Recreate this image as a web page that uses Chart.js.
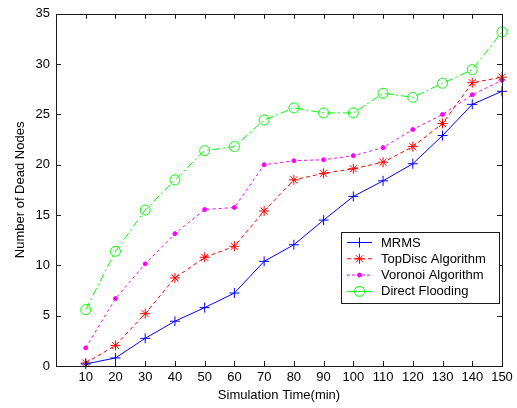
<!DOCTYPE html>
<html>
<head>
<meta charset="utf-8">
<script src="https://cdn.jsdelivr.net/npm/chart.js@4/dist/chart.umd.min.js"></script>
<style>
  body { margin: 0; background: #fff; }
  canvas { display: block; }
</style>
</head>
<body>
<canvas id="myChart" width="517" height="408"></canvas>
<script>
const times = [10, 20, 30, 40, 50, 60, 70, 80, 90, 100, 110, 120, 130, 140, 150];
const mrms = [0.2, 0.8, 2.75, 4.45, 5.8, 7.25, 10.4, 12.05, 14.5, 16.85, 18.4, 20.1, 22.9, 26.0, 27.3];
const topDisc = [0.3, 2.05, 5.2, 8.75, 10.8, 11.9, 15.4, 18.5, 19.15, 19.6, 20.25, 21.8, 24.1, 28.15, 28.7];
const voronoi = [1.8, 6.7, 10.15, 13.15, 15.55, 15.75, 20.0, 20.4, 20.5, 20.9, 21.7, 23.5, 25.0, 26.95, 28.4];
const flooding = [5.6, 11.4, 15.5, 18.5, 21.4, 21.8, 24.45, 25.65, 25.15, 25.15, 27.1, 26.7, 28.1, 29.45, 33.2];
const seriesNames = ['MRMS', 'TopDisc Algorithm', 'Voronoi Algorithm', 'Direct Flooding'];

const toPoints = (vals) => vals.map((v, i) => ({ x: times[i], y: v }));

Chart.defaults.font.family = '"Liberation Sans", Arial, sans-serif';
Chart.defaults.font.size = 13;
Chart.defaults.color = '#000';

// box around the plot with inward ticks, like the original figure
const boxPlugin = {
    id: 'box',
    afterDraw(chart) {
        const { ctx, chartArea: a, scales: { x, y } } = chart;
        ctx.save();
        ctx.strokeStyle = '#1a1a1a';
        ctx.lineWidth = 1;
        ctx.beginPath();
        x.ticks.forEach(t => {
            const px = Math.round(x.getPixelForValue(t.value)) + 0.5;
            ctx.moveTo(px, a.bottom); ctx.lineTo(px, a.bottom - 5);
            ctx.moveTo(px, a.top); ctx.lineTo(px, a.top + 5);
        });
        y.ticks.forEach(t => {
            const py = Math.round(y.getPixelForValue(t.value)) + 0.5;
            ctx.moveTo(a.left, py); ctx.lineTo(a.left + 5, py);
            ctx.moveTo(a.right, py); ctx.lineTo(a.right - 5, py);
        });
        ctx.stroke();
        ctx.strokeRect(Math.round(a.left) + 0.5, Math.round(a.top) + 0.5,
            Math.round(a.right - a.left), Math.round(a.bottom - a.top));
        ctx.restore();
    }
};

// legend box inside the plot, lower right
const legendPlugin = {
    id: 'boxLegend',
    afterDraw(chart) {
        const ctx = chart.ctx;
        const bx = 341, by = 232, bw = 158, bh = 71, rowH = 16.3;
        ctx.save();
        ctx.fillStyle = '#fff';
        ctx.fillRect(bx, by, bw, bh);
        ctx.strokeStyle = '#1a1a1a';
        ctx.lineWidth = 1;
        ctx.strokeRect(bx + 0.5, by + 0.5, bw, bh);
        chart.data.datasets.forEach((ds, i) => {
            const cy = by + 10.5 + i * rowH;
            ctx.strokeStyle = ds.borderColor;
            ctx.lineWidth = 1;
            ctx.setLineDash(ds.legendDash);
            ctx.beginPath();
            ctx.moveTo(347, cy); ctx.lineTo(372, cy);
            ctx.stroke();
            ctx.setLineDash([]);
            ctx.strokeStyle = ds.borderColor;
            ctx.fillStyle = ds.backgroundColor;
            Chart.helpers.drawPoint(ctx, {
                pointStyle: ds.pointStyle,
                radius: ds.pointRadius,
                rotation: 0,
                borderWidth: 1
            }, 359.5, cy);
            ctx.fillStyle = '#000';
            ctx.font = '13px "Liberation Sans", Arial, sans-serif';
            ctx.textBaseline = 'middle';
            ctx.fillText(ds.label, 381, cy + 0.5);
        });
        ctx.restore();
    }
};

const colors = ['#0000ff', '#ff0000', '#ff00ff', '#00ff00'];

const chart = new Chart(document.getElementById('myChart').getContext('2d'), {
    type: 'line',
    data: {
        datasets: [{
            label: seriesNames[0],
            data: toPoints(mrms),
            borderColor: colors[0],
            backgroundColor: colors[0],
            borderWidth: 1,
            borderDash: [],
            legendDash: [],
            pointStyle: 'cross',
            pointRadius: 5,
            pointBorderWidth: 1
        }, {
            label: seriesNames[1],
            data: toPoints(topDisc),
            borderColor: colors[1],
            backgroundColor: colors[1],
            borderWidth: 1,
            borderDash: [4, 3],
            legendDash: [4, 3],
            pointStyle: 'star',
            pointRadius: 5,
            pointBorderWidth: 1
        }, {
            label: seriesNames[2],
            data: toPoints(voronoi),
            borderColor: colors[2],
            backgroundColor: colors[2],
            borderWidth: 1,
            borderDash: [3, 3],
            legendDash: [3, 2],
            pointStyle: 'circle',
            pointRadius: 2,
            pointBorderWidth: 1
        }, {
            label: seriesNames[3],
            data: toPoints(flooding),
            borderColor: colors[3],
            backgroundColor: 'rgba(0,0,0,0)',
            borderWidth: 1,
            borderDash: [8, 3, 2, 3],
            legendDash: [],
            pointStyle: 'circle',
            pointRadius: 5,
            pointBorderWidth: 1
        }]
    },
    options: {
        responsive: false,
        animation: false,
        events: [],
        layout: { padding: { left: 0, top: 13, right: 15, bottom: 0 } },
        elements: { line: { tension: 0 } },
        datasets: { line: { clip: false } },
        plugins: {
            legend: { display: false },
            tooltip: { enabled: false }
        },
        scales: {
            x: {
                type: 'linear',
                min: 0,
                max: 150,
                grid: { display: false, drawTicks: false },
                border: { display: false },
                ticks: { stepSize: 10, padding: 4, maxRotation: 0, autoSkip: false, color: '#000' },
                afterBuildTicks: (s) => { s.ticks = s.ticks.filter(t => t.value > 0); },
                afterFit: (s) => { s.height = 42; },
                title: { display: true, text: 'Simulation Time(min)', padding: { top: 0, bottom: 5 }, color: '#000' }
            },
            y: {
                min: 0,
                max: 35,
                grid: { display: false, drawTicks: false },
                border: { display: false },
                ticks: { stepSize: 5, padding: 6, color: '#000' },
                afterFit: (s) => { s.width = 56; },
                title: { display: true, text: 'Number of Dead Nodes', padding: { top: 13, bottom: 0 }, color: '#000' }
            }
        }
    },
    plugins: [boxPlugin, legendPlugin]
});
</script>
</body>
</html>
